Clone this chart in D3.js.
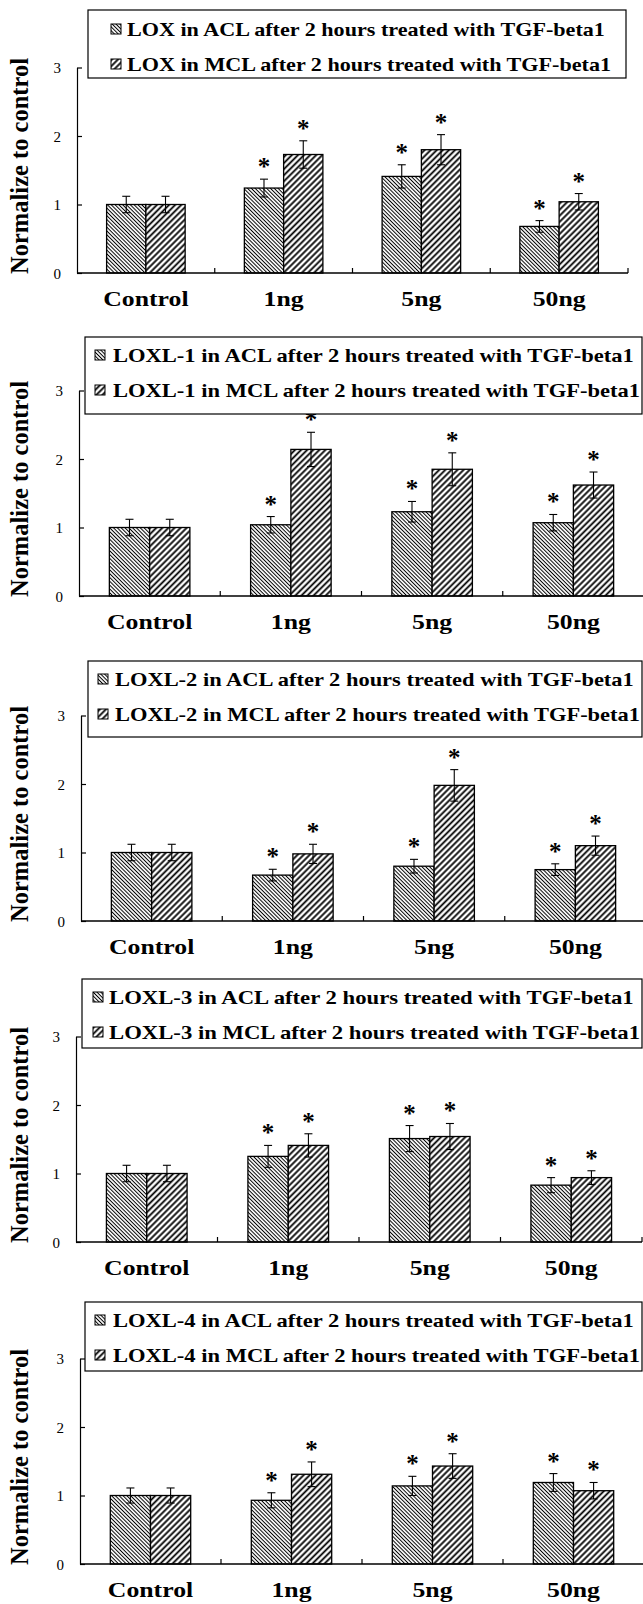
<!DOCTYPE html>
<html>
<head>
<meta charset="utf-8">
<script src="https://cdn.jsdelivr.net/npm/d3@7"></script>
<style>
  html, body { margin: 0; padding: 0; background: #fff; }
  svg { display: block; }
  text { font-family: "Liberation Serif", "Times New Roman", serif; fill: #000; }
</style>
</head>
<body>
<script>
// data
var categories = ["Control", "1ng", "5ng", "50ng"];
var series = ["ACL", "MCL"];
var genes = ["LOX", "LOXL-1", "LOXL-2", "LOXL-3", "LOXL-4"];

var aclMeans = [
    [1, 1.24, 1.41, 0.68],
    [1, 1.04, 1.23, 1.07],
    [1, 0.67, 0.80, 0.75],
    [1, 1.25, 1.51, 0.83],
    [1, 0.93, 1.14, 1.19]
];
var aclErr = [
    [0.12, 0.13, 0.17, 0.085],
    [0.12, 0.12, 0.15, 0.12],
    [0.12, 0.085, 0.10, 0.085],
    [0.12, 0.16, 0.19, 0.11],
    [0.11, 0.11, 0.14, 0.13]
];
var mclMeans = [
    [1, 1.73, 1.80, 1.04],
    [1, 2.14, 1.85, 1.62],
    [1, 0.98, 1.98, 1.10],
    [1, 1.41, 1.54, 0.94],
    [1, 1.31, 1.43, 1.07]
];
var mclErr = [
    [0.12, 0.20, 0.22, 0.12],
    [0.12, 0.25, 0.24, 0.19],
    [0.12, 0.14, 0.23, 0.14],
    [0.12, 0.17, 0.19, 0.10],
    [0.11, 0.18, 0.18, 0.12]
];
// star above every treated bar
var significant = [false, true, true, true];
var yTicks = [0, 1, 2, 3];

// layout of each panel (pixels)
var layout = [
    { y0: 273,  left: 77, right: 628, lx0: 88, lx1: 626, lTop: -263, lBot: -195, line1: -237, sw: 111, tx: 127, tEnd: 611 },
    { y0: 596,  left: 79, right: 644, lx0: 85, lx1: 642, lTop: -259, lBot: -182, line1: -234, sw: 95,  tx: 113, tEnd: 640 },
    { y0: 921,  left: 81, right: 646, lx0: 88, lx1: 642, lTop: -260, lBot: -184, line1: -235, sw: 98,  tx: 115, tEnd: 640 },
    { y0: 1242, left: 76, right: 642, lx0: 82, lx1: 642, lTop: -263, lBot: -194, line1: -238, sw: 93,  tx: 109, tEnd: 640 },
    { y0: 1564, left: 80, right: 644, lx0: 85, lx1: 642, lTop: -262, lBot: -193, line1: -237, sw: 95,  tx: 113, tEnd: 640 }
];
var unit = 68.5;

var svg = d3.select("body").append("svg")
    .attr("width", 643)
    .attr("height", 1604);

// hatch patterns
var defs = svg.append("defs");
function hatch(id, size, width, angle) {
    var p = defs.append("pattern")
        .attr("id", id)
        .attr("patternUnits", "userSpaceOnUse")
        .attr("width", size)
        .attr("height", size)
        .attr("patternTransform", "rotate(" + angle + ")");
    p.append("rect").attr("width", size).attr("height", size).attr("fill", "#fff");
    p.append("line")
        .attr("x1", size / 2).attr("x2", size / 2)
        .attr("y1", 0).attr("y2", size)
        .attr("stroke", "#000")
        .attr("stroke-width", width);
}
hatch("hatchACL", 2.7, 1.0, -45);
hatch("hatchMCL", 4.3, 1.8, 45);
var fills = { ACL: "url(#hatchACL)", MCL: "url(#hatchMCL)" };

function stretch(sel, k) {
    sel.each(function () {
        var w = this.getComputedTextLength();
        d3.select(this).attr("textLength", w * k).attr("lengthAdjust", "spacingAndGlyphs");
    });
}

layout.forEach(function (L, i) {
    var g = svg.append("g");

    var y = d3.scaleLinear().domain([0, 3]).range([L.y0, L.y0 - 3 * unit]);
    var x = d3.scaleBand().domain(categories).range([L.left, L.right]).padding(0);
    var xs = d3.scaleBand().domain(series).range([0, x.bandwidth()])
        .paddingInner(0).paddingOuter(0.754);

    var rows = categories.map(function (c, j) {
        return [
            { cat: c, s: "ACL", v: aclMeans[i][j], e: aclErr[i][j], sig: significant[j] },
            { cat: c, s: "MCL", v: mclMeans[i][j], e: mclErr[i][j], sig: significant[j] }
        ];
    });
    var bars = [].concat.apply([], rows);

    // bars
    g.selectAll(".bar")
        .data(bars)
        .enter().append("rect")
        .attr("class", "bar")
        .attr("x", function (d) { return x(d.cat) + xs(d.s); })
        .attr("width", xs.bandwidth())
        .attr("y", function (d) { return y(d.v); })
        .attr("height", function (d) { return y(0) - y(d.v); })
        .attr("fill", function (d) { return fills[d.s]; })
        .attr("stroke", "#000")
        .attr("stroke-width", 1.3);

    // error bars
    var eb = g.selectAll(".err")
        .data(bars)
        .enter().append("g")
        .attr("class", "err")
        .attr("transform", function (d) {
            return "translate(" + (x(d.cat) + xs(d.s) + xs.bandwidth() / 2) + ",0)";
        })
        .attr("stroke", "#000")
        .attr("stroke-width", 1.1);
    eb.append("line")
        .attr("y1", function (d) { return y(d.v - d.e); })
        .attr("y2", function (d) { return y(d.v + d.e); });
    eb.append("line")
        .attr("x1", -4).attr("x2", 4)
        .attr("y1", function (d) { return y(d.v + d.e); })
        .attr("y2", function (d) { return y(d.v + d.e); });
    eb.append("line")
        .attr("x1", -4).attr("x2", 4)
        .attr("y1", function (d) { return y(d.v - d.e); })
        .attr("y2", function (d) { return y(d.v - d.e); });

    // stars
    g.selectAll(".star")
        .data(bars.filter(function (d) { return d.sig; }))
        .enter().append("text")
        .attr("class", "star")
        .attr("x", function (d) { return x(d.cat) + xs(d.s) + xs.bandwidth() / 2; })
        .attr("y", function (d) { return y(d.v + d.e) - 4; })
        .attr("text-anchor", "middle")
        .style("font-size", "25px")
        .style("font-weight", "bold")
        .text("*");

    // y axis
    var ya = g.append("g")
        .attr("transform", "translate(" + L.left + ",0)")
        .call(d3.axisLeft(y).tickValues(yTicks).tickFormat(d3.format("d"))
            .tickSizeInner(-5).tickSizeOuter(0).tickPadding(16));
    ya.selectAll("path, line").attr("stroke", "#000").attr("stroke-width", 1.2);
    ya.selectAll("text")
        .style("font-family", '"Liberation Serif", "Times New Roman", serif')
        .style("font-size", "15px")
        .attr("dy", "0.36em");

    // x axis line and inner ticks between groups
    g.append("line")
        .attr("x1", L.left).attr("x2", L.right)
        .attr("y1", y(0)).attr("y2", y(0))
        .attr("stroke", "#000").attr("stroke-width", 1.3);
    g.selectAll(".xtick")
        .data(categories)
        .enter().append("line")
        .attr("class", "xtick")
        .attr("x1", function (c) { return x(c) + x.bandwidth(); })
        .attr("x2", function (c) { return x(c) + x.bandwidth(); })
        .attr("y1", y(0)).attr("y2", y(0) - 5)
        .attr("stroke", "#000").attr("stroke-width", 1.2);

    // category labels
    var cl = g.selectAll(".cat")
        .data(categories)
        .enter().append("text")
        .attr("class", "cat")
        .attr("x", function (c) { return x(c) + x.bandwidth() / 2; })
        .attr("y", L.y0 + 33)
        .attr("text-anchor", "middle")
        .style("font-size", "22px")
        .style("font-weight", "bold")
        .text(function (c) { return c; });
    stretch(cl, 1.17);

    // y title
    g.append("text")
        .attr("transform", "translate(28," + (L.y0 - 107) + ") rotate(-90)")
        .attr("text-anchor", "middle")
        .style("font-size", "24.5px")
        .style("font-weight", "bold")
        .text("Normalize to control");

    // legend
    var lg = g.append("g");
    lg.append("rect")
        .attr("x", L.lx0).attr("y", L.y0 + L.lTop)
        .attr("width", L.lx1 - L.lx0).attr("height", L.lBot - L.lTop)
        .attr("fill", "#fff").attr("stroke", "#000").attr("stroke-width", 1.2);
    var items = lg.selectAll(".item")
        .data(series)
        .enter().append("g")
        .attr("class", "item")
        .attr("transform", function (s, k) {
            return "translate(0," + (L.y0 + L.line1 + k * 35) + ")";
        });
    items.append("rect")
        .attr("x", L.sw).attr("y", -12)
        .attr("width", 10).attr("height", 10)
        .attr("fill", function (s) { return fills[s]; })
        .attr("stroke", "#000").attr("stroke-width", 1);
    var lt = items.append("text")
        .attr("x", L.tx)
        .style("font-size", "19.5px")
        .style("font-weight", "bold")
        .text(function (s) { return genes[i] + " in " + s + " after 2 hours treated with TGF-beta1"; });
    var w2 = lt.nodes()[1].getComputedTextLength();
    stretch(lt, (L.tEnd - L.tx) / w2);
});
</script>
</body>
</html>
